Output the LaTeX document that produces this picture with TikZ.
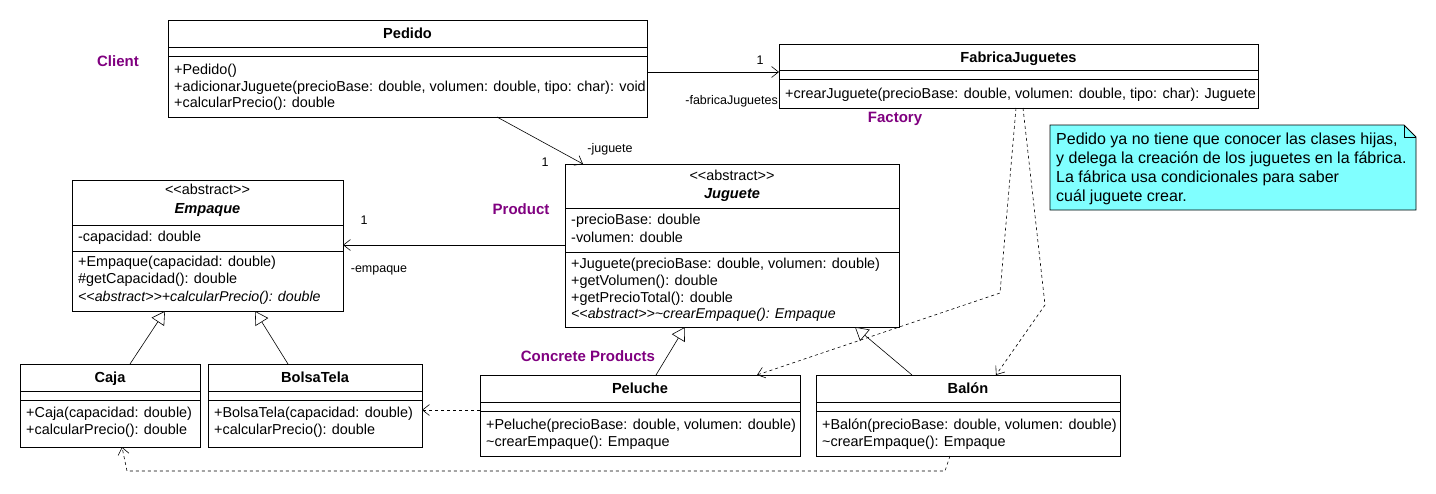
\documentclass[tikz,border=0pt]{standalone}
\usepackage{fontspec}
\setmainfont{Liberation Sans}
\usetikzlibrary{arrows.meta,calc}
\definecolor{lab}{RGB}{128,0,128}
\definecolor{notec}{RGB}{128,255,255}
\begin{document}
\begin{tikzpicture}[x=1pt,y=-1pt,
 box/.style={draw,line width=0.9pt,anchor=north west,inner sep=0pt,outer sep=0pt},
 txt/.style={anchor=base west,yshift=-5pt,inner sep=0pt,font=\fontsize{14.4}{16}\selectfont},
 itxt/.style={txt,font=\itshape\fontsize{14.2}{16}\selectfont},
 ttl/.style={anchor=base,yshift=-5pt,inner sep=0pt,font=\bfseries\fontsize{14.6}{16}\selectfont},
 bit/.style={ttl,font=\bfseries\itshape\fontsize{14.6}{16}\selectfont},
 stt/.style={anchor=base,yshift=-5pt,inner sep=0pt,font=\fontsize{14.4}{16}\selectfont},
 lbl/.style={anchor=base,yshift=-4.5pt,inner sep=0pt,font=\fontsize{12.5}{14}\selectfont},
 role/.style={anchor=base,yshift=-5.2pt,inner sep=0pt,text=lab,font=\bfseries\fontsize{15}{17}\selectfont},
 ntxt/.style={anchor=base west,yshift=-5.8pt,inner sep=0pt,font=\fontsize{16}{19}\selectfont},
 divl/.style={line width=0.9pt},
 assoc/.style={-{Straight Barb[length=7pt,width=11pt]},line width=0.6pt},
 dep/.style={assoc,dash pattern=on 3pt off 3pt},
 gen/.style={-{Triangle[open,length=13pt,width=15pt,fill=white]},line width=0.6pt}]
\useasboundingbox (0,0) rectangle (1436,493);
\fill[white] (0,0) rectangle (1436,493);

% ---------- Pedido ----------
\node[box,minimum width=479pt,minimum height=97pt] (pedido) at (168,20) {};
\draw[divl] (168,47) -- (647,47);
\draw[divl] (168,56) -- (647,56);
\node[ttl] (pedidoT) at (407.5,33) {Pedido};
\node[txt] (pedidoM1) at (174,69) {+Pedido()};
\node[txt] (pedidoM2) at (174,86) {+adicionarJuguete(precioBase: double, volumen: double, tipo: char): void};
\node[txt] (pedidoM3) at (174,102) {+calcularPrecio(): double};

% ---------- FabricaJuguetes ----------
\node[box,minimum width=479pt,minimum height=64pt] (fab) at (779,44) {};
\draw[divl] (779,70) -- (1258,70);
\draw[divl] (779,79) -- (1258,79);
\node[ttl] (fabT) at (1018.5,57) {FabricaJuguetes};
\node[txt] (fabM1) at (785,93) {+crearJuguete(precioBase: double, volumen: double, tipo: char): Juguete};

% ---------- Note ----------
\draw[line width=0.9pt,fill=notec] (1050,125) -- (1404,125) -- (1416,137) -- (1416,210) -- (1050,210) -- cycle;
\draw[line width=0.6pt] (1404,125) -- (1404,137) -- (1416,137);
\node[ntxt] (n1) at (1056,139) {Pedido ya no tiene que conocer las clases hijas,};
\node[ntxt] (n2) at (1056,158) {y delega la creación de los juguetes en la fábrica.};
\node[ntxt] (n3) at (1056,177) {La fábrica usa condicionales para saber};
\node[ntxt] (n4) at (1056,196) {cuál juguete crear.};

% ---------- Empaque ----------
\node[box,minimum width=271pt,minimum height=131pt] (emp) at (72,180) {};
\draw[divl] (72,225) -- (343,225);
\draw[divl] (72,251) -- (343,251);
\node[stt] (empS) at (207.5,189) {<{}<abstract>{}>};
\node[bit] (empT) at (207.5,208) {Empaque};
\node[txt] (empA1) at (78,236) {-capacidad: double};
\node[txt] (empM1) at (78,261) {+Empaque(capacidad: double)};
\node[txt] (empM2) at (78,278) {\#getCapacidad(): double};
\node[itxt] (empM3) at (78,296) {<{}<abstract>{}>+calcularPrecio(): double};

% ---------- Juguete ----------
\node[box,minimum width=334pt,minimum height=163pt] (jug) at (565,164) {};
\draw[divl] (565,208) -- (899,208);
\draw[divl] (565,252) -- (899,252);
\node[stt] (jugS) at (732,175) {<{}<abstract>{}>};
\node[bit] (jugT) at (732,193) {Juguete};
\node[txt] (jugA1) at (571,219) {-precioBase: double};
\node[txt] (jugA2) at (571,237) {-volumen: double};
\node[txt] (jugM1) at (571,263) {+Juguete(precioBase: double, volumen: double)};
\node[txt] (jugM2) at (571,280) {+getVolumen(): double};
\node[txt] (jugM3) at (571,297) {+getPrecioTotal(): double};
\node[itxt] (jugM4) at (571,313) {<{}<abstract>{}>\textasciitilde crearEmpaque(): Empaque};

% ---------- Caja ----------
\node[box,minimum width=180pt,minimum height=83pt] (caja) at (20,364) {};
\draw[divl] (20,391) -- (200,391);
\draw[divl] (20,400) -- (200,400);
\node[ttl] (cajaT) at (110,377) {Caja};
\node[txt] (cajaM1) at (26,412) {+Caja(capacidad: double)};
\node[txt] (cajaM2) at (26,429) {+calcularPrecio(): double};

% ---------- BolsaTela ----------
\node[box,minimum width=214pt,minimum height=83pt] (bolsa) at (208,364) {};
\draw[divl] (208,391) -- (422,391);
\draw[divl] (208,400) -- (422,400);
\node[ttl] (bolsaT) at (315,377) {BolsaTela};
\node[txt] (bolsaM1) at (214,412) {+BolsaTela(capacidad: double)};
\node[txt] (bolsaM2) at (214,429) {+calcularPrecio(): double};

% ---------- Peluche ----------
\node[box,minimum width=320pt,minimum height=81pt] (pel) at (480,375) {};
\draw[divl] (480,402) -- (800,402);
\draw[divl] (480,411) -- (800,411);
\node[ttl] (pelT) at (640,388) {Peluche};
\node[txt] (pelM1) at (486,424) {+Peluche(precioBase: double, volumen: double)};
\node[txt] (pelM2) at (486,441) {\textasciitilde crearEmpaque(): Empaque};

% ---------- Balon ----------
\node[box,minimum width=304pt,minimum height=81pt] (bal) at (816,375) {};
\draw[divl] (816,402) -- (1120,402);
\draw[divl] (816,411) -- (1120,411);
\node[ttl] (balT) at (968,388) {Balón};
\node[txt] (balM1) at (822,424) {+Balón(precioBase: double, volumen: double)};
\node[txt] (balM2) at (822,441) {\textasciitilde crearEmpaque(): Empaque};

% ---------- role labels ----------
\node[role] (rClient) at (118,61) {Client};
\node[role] (rFactory) at (895,117) {Factory};
\node[role] (rProduct) at (521,209) {Product};
\node[role] (rConcrete) at (588,356) {Concrete Products};

% ---------- connectors ----------
\draw[assoc] ($(pedido.north east)+(0,52)$) -- ($(fab.north west)+(0,28)$);
\node[lbl] (m1) at (760,60) {1};
\node[lbl,anchor=base east] (r1) at (778,100) {-fabricaJuguetes};

\draw[assoc] ($(pedido.south west)+(329,0)$) -- ($(jug.north west)+(18,0)$);
\node[lbl] (r2) at (610,148) {-juguete};
\node[lbl] (m2) at (545,162) {1};

\draw[assoc] ($(jug.north west)+(0,81)$) -- ($(emp.north east)+(0,65)$);
\node[lbl] (m3) at (364,220) {1};
\node[lbl] (r3) at (379,268) {-empaque};

\draw[gen] ($(caja.north west)+(110,0)$) -- ($(emp.south west)+(93,0)$);
\draw[gen] ($(bolsa.north west)+(80,0)$) -- ($(emp.south west)+(183,0)$);
\draw[gen] ($(pel.north west)+(176,0)$) -- ($(jug.south west)+(120,0)$);
\draw[gen] ($(bal.north west)+(96,0)$) -- ($(jug.south west)+(290,0)$);

\draw[dep] ($(fab.south west)+(237,0)$) -- (1000,293) -- ($(pel.north west)+(277,0)$);
\draw[dep] ($(fab.south west)+(244,0)$) -- (1045,305) -- ($(bal.north west)+(180,0)$);
\draw[dep] ($(pel.north west)+(0,35)$) -- ($(bolsa.north east)+(0,46)$);
\draw[dep] ($(bal.south west)+(134,0)$) -- (945,471) -- (127,471) -- ($(caja.south west)+(102,0)$);
\end{tikzpicture}
\end{document}
